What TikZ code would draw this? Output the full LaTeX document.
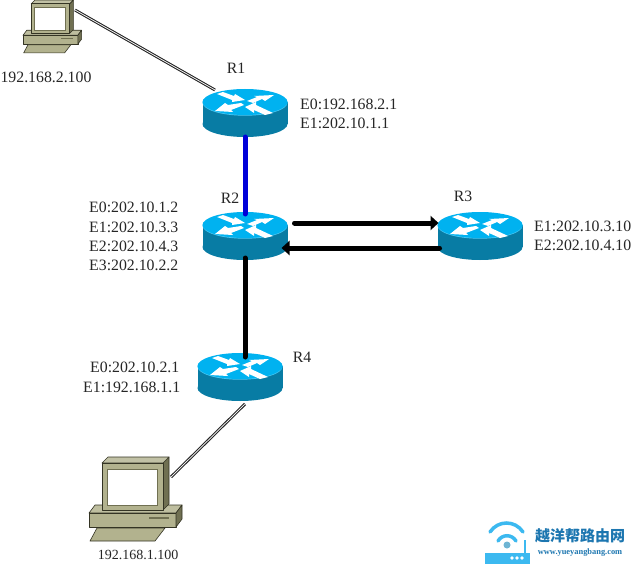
\documentclass[tikz,border=0pt]{standalone}
\usepackage{fontspec}
\setmainfont{Liberation Serif}
\newfontfamily\cjk{Noto Sans CJK SC}
\usepackage{tikz}
\usetikzlibrary{positioning,arrows.meta}
\definecolor{rtop}{RGB}{0,178,240}
\definecolor{rside}{RGB}{8,124,164}
\definecolor{pcbody}{RGB}{178,178,142}
\definecolor{pcside}{RGB}{112,112,82}
\definecolor{pcedge}{RGB}{52,52,36}
\definecolor{wmblue}{RGB}{28,118,176}
\definecolor{wmcyan}{RGB}{60,185,240}
\tikzstyle{routerbox} = [rectangle, minimum width=85pt, minimum height=48pt, inner sep=0pt, outer sep=0pt]
\tikzstyle{pcbox} = [rectangle, inner sep=0pt, outer sep=0pt]
\tikzstyle{txt} = [font=\fontsize{15.8}{17}\selectfont, inner sep=0pt, text=black!85]
\tikzstyle{ip} = [txt, anchor=west]
\tikzstyle{arrow} = [line width=5pt,-{Triangle[length=8pt,width=14pt]}, line cap=round]
\tikzstyle{link} = [line width=5pt, line cap=round]
\tikzstyle{cable} = [double=white, double distance=0.7pt, line width=1.1pt, draw=black!85]
\tikzstyle{pcpart} = [draw=pcedge, line width=0.6pt, line join=round]
\newcommand{\router}[2]{
\begin{scope}[shift={(#1,#2)}]
\fill [rside] (-42.5,0) rectangle (42.5,22);
\fill [rside] (0,22) ellipse [x radius=42.5, y radius=13];
\fill [rtop!70!white] (0,0.7) ellipse [x radius=42.5, y radius=13];
\fill [rtop] (0,0) ellipse [x radius=42.5, y radius=13];
\fill [white] (-28,-8) -- (-22,-10) -- (-11,-6) -- (-10,-8) -- (0,-2) -- (-13,0) -- (-13,-2) -- cycle;
\fill [white] (2,-1) -- (12,-5) -- (9,-6) -- (29,-7) -- (20,-1) -- (17,-3) -- (8,1) -- cycle;
\fill [white] (-30,9) -- (-20,1) -- (-17,3) -- (-4,1) -- (-1,3) -- (-14,8) -- (-12,10) -- cycle;
\fill [white] (0,5) -- (11,0) -- (11,3) -- (28,11) -- (20,13) -- (9,8) -- (9,11) -- cycle;
\end{scope}
}
\newcommand{\pc}[3]{
\begin{scope}[shift={(#1,#2)}, scale=#3]
% base
\filldraw [pcpart, fill=pcbody!85!white] (0,56) -- (6,48) -- (93,48) -- (87,56) -- cycle;
\filldraw [pcpart, fill=pcbody] (0,56) rectangle (87,70);
\filldraw [pcpart, fill=pcside] (87,56) -- (93,48) -- (93,62) -- (87,70) -- cycle;
\draw [pcside, line width=1.4pt] (60,61) -- (80,61);
% keyboard
\filldraw [pcpart, fill=pcbody] (8,71) -- (76,71) -- (66,84) -- (1,84) -- cycle;
% monitor
\filldraw [pcpart, fill=pcside] (74,6) -- (80,0) -- (80,47) -- (74,53) -- cycle;
\filldraw [pcpart, fill=pcbody!80!white] (13,6) -- (19,0) -- (80,0) -- (74,6) -- cycle;
\filldraw [pcpart, fill=pcbody] (13,6) rectangle (74,53);
\filldraw [draw=pcside, line width=0.7pt, fill=white] (18,12) rectangle (68,48);
\end{scope}
}

\begin{document}
\begin{tikzpicture}[x=1pt,y=-1pt]
\useasboundingbox [fill=white] (0,0) rectangle (631,564);

% routers
\router{245}{102}
\router{245}{225}
\router{480}{225}
\router{240}{366}
\node (r1) [routerbox] at (245,113) {};
\node (r2) [routerbox] at (245,236) {};
\node (r3) [routerbox] at (480,236) {};
\node (r4) [routerbox] at (240,377) {};

% hosts
\pc{23}{0}{0.63}
\pc{89}{457}{1}
\node (pc1) [pcbox, minimum width=59pt, minimum height=54pt] at (52,27) {};
\node (pc2) [pcbox, minimum width=93pt, minimum height=84pt] at (135.5,499) {};

% links
\coordinate (pc1port) at (75,10);
\coordinate (r1port) at (215,90);
\coordinate (pc2port) at (171,477);
\coordinate (r4port) at (245,404);
\draw [cable] (pc1port) -- (r1port);
\draw [cable] (pc2port) -- (r4port);
\draw [link, blue!85!black] (r1.south) -- ([yshift=-2pt]r2.north);
\draw [link, black] ([yshift=2pt]r2.south) -- ([yshift=-4pt]r4.north -| r2.south);
\draw [arrow] ([xshift=7pt, yshift=13pt]r2.east) -- ([xshift=1pt, yshift=13pt]r3.west);
\draw [arrow] ([xshift=2pt, yshift=-12pt]r3.west) -- ([xshift=-6pt, yshift=-12pt]r2.east);

% labels
\node (pc1ip) [txt] at (46,77) {192.168.2.100};
\node (pc2ip) [txt, font=\fontsize{14}{16}\selectfont] at (138,555) {192.168.1.100};
\node (r1name) [txt] at (236,68) {R1};
\node (r2name) [txt] at (230,198) {R2};
\node (r3name) [txt] at (463,196) {R3};
\node (r4name) [txt] at (302,357) {R4};
\node (r1e0) [ip] at (300,104) {E0:192.168.2.1};
\node (r1e1) [ip] at (300,123) {E1:202.10.1.1};
\node (r2e0) [ip] at (89,207) {E0:202.10.1.2};
\node (r2e1) [ip] at (89,227) {E1:202.10.3.3};
\node (r2e2) [ip] at (89,246) {E2:202.10.4.3};
\node (r2e3) [ip] at (89,265) {E3:202.10.2.2};
\node (r3e1) [ip] at (534,226) {E1:202.10.3.10};
\node (r3e2) [ip] at (534,245) {E2:202.10.4.10};
\node (r4e0) [ip] at (90,367) {E0:202.10.2.1};
\node (r4e1) [ip] at (83,387) {E1:192.168.1.1};

% watermark
\fill [white] (482,516) rectangle (631,564);
\draw [wmcyan, line width=3.5pt, line cap=round] (490,532) .. controls (498,520) and (515,520) .. (523,532);
\draw [wmcyan, line width=3.5pt, line cap=round] (498,541) .. controls (502,534) and (512,534) .. (516,541);
\fill [wmcyan!80!black!70!white] (507,545) circle (3.5);
\fill [wmcyan] (485,553) rectangle (530,564);
\draw [wmcyan, line width=1.5pt] (525,540) -- (525,553);
\foreach \dotx in {512,517,522} \fill [white] (\dotx,558) circle (1.8);
\node (wmname) [text=wmblue, font=\cjk\bfseries\fontsize{15}{17}\selectfont, inner sep=0pt] at (580,536) {越洋帮路由网};
\node (wmurl) [text=wmblue, font=\bfseries\fontsize{8.4}{9}\selectfont, inner sep=0pt] at (580,553) {www.yueyangbang.com};
\end{tikzpicture}
\end{document}
